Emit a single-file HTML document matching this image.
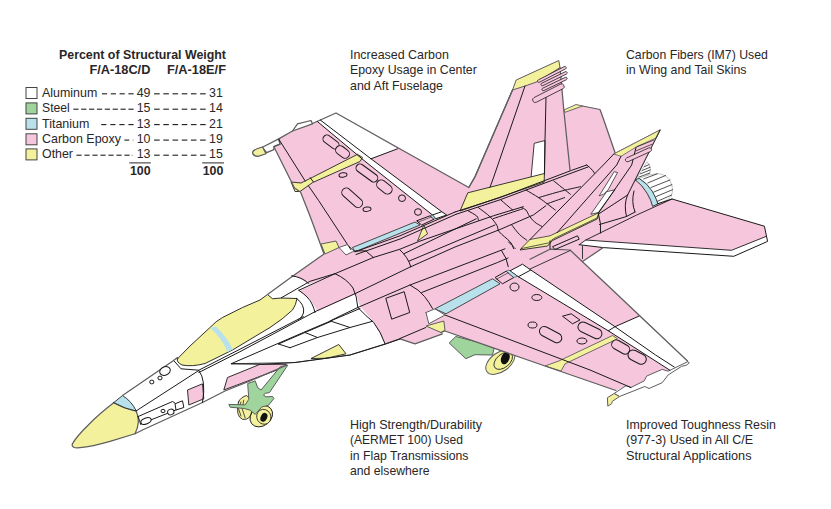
<!DOCTYPE html>
<html><head><meta charset="utf-8"><title>F/A-18E/F Structural Materials</title>
<style>
html,body{margin:0;padding:0;background:#fff;}
body{width:831px;height:509px;overflow:hidden;font-family:"Liberation Sans",sans-serif;}
svg{display:block;font-family:"Liberation Sans",sans-serif;}
</style></head><body>
<svg width="831" height="509" viewBox="0 0 831 509">
<rect width="831" height="509" fill="#fff"/>
<ellipse cx="500.3" cy="362.0" rx="16.5" ry="9.6" transform="rotate(-36 500.3 362.0)" fill="#F4F19C" stroke="#5e5e5e" stroke-width="1.0"/>
<ellipse cx="503.2" cy="360.8" rx="10.8" ry="6.6" transform="rotate(-40 503.2 360.8)" fill="#F4F19C" stroke="#1a1a1a" stroke-width="0.8"/>
<ellipse cx="505.3" cy="358.3" rx="4.1" ry="6.3" transform="rotate(22 505.3 358.3)" fill="#111" stroke="none" stroke-width="0.8"/>
<polygon points="449.2,343.0 455.8,336.5 494.5,346.5 492.5,355.0 475.0,354.7 465.8,358.7" fill="#9FD49C" stroke="#5e5e5e" stroke-width="1.0" stroke-linejoin="round" />
<polygon points="292.5,276.2 324.0,254.0 310.0,216.0 300.5,192.0 294.5,188.0 273.9,146.7 280.0,144.2 278.7,138.9 292.5,131.0 317.5,121.2 336.0,113.0 468.8,187.5 475.0,176.8 512.5,90.0 516.2,80.0 558.8,60.5 560.0,67.5 563.8,110.0 576.0,104.5 600.0,109.5 603.8,120.0 615.0,152.5 660.0,130.0 656.0,138.0 635.0,180.0 641.7,185.1 647.5,193.4 651.3,201.1 652.6,206.2 657.7,203.6 672.0,199.0 764.4,226.2 767.6,241.4 733.8,256.3 603.3,247.8 582.5,261.5 612.5,290.0 687.5,361.0 671.8,369.4 668.2,371.2 662.2,369.4 646.6,376.1 644.2,380.9 630.9,387.5 626.1,385.7 615.9,390.5 545.0,366.0 445.0,331.0 441.0,332.5 442.5,333.8 415.0,343.8 400.0,338.8 385.0,343.8 373.8,322.5 360.0,306.0 356.0,294.0 317.5,311.2 310.0,299.0 298.8,291.2 335.0,273.8 308.8,284.5 300.0,278.5" fill="#F6C6DC" stroke="none" stroke-width="0.8" stroke-linejoin="round" />
<polygon points="187.5,390.0 202.5,383.8 203.8,398.8 188.8,405.0" fill="#F6C6DC" stroke="#1a1a1a" stroke-width="0.9" stroke-linejoin="round" />
<polygon points="223.8,390.0 227.5,377.5 260.0,364.3 286.5,364.3 282.5,368.0" fill="#F6C6DC" stroke="#1a1a1a" stroke-width="0.9" stroke-linejoin="round" />
<polygon points="317.5,121.2 336.0,113.0 397.5,148.8 371.0,158.8" fill="#FFFFFF" stroke="none" stroke-width="0.8" stroke-linejoin="round" />
<polygon points="365.0,161.3 371.0,158.8 441.7,211.7 446.7,215.0 435.8,218.7 432.5,215.0" fill="#FFFFFF" stroke="none" stroke-width="0.8" stroke-linejoin="round" />
<polygon points="317.5,121.6 320.3,120.0 371.0,158.8 365.0,161.3" fill="#FFFFFF" stroke="none" stroke-width="0.8" stroke-linejoin="round" />
<polygon points="292.5,131.0 297.5,123.8 311.0,120.5 312.5,123.8" fill="#FFFFFF" stroke="#5e5e5e" stroke-width="1.25" stroke-linejoin="round" />
<polygon points="339.0,247.5 347.5,244.5 354.0,251.0 346.0,255.0" fill="#FFFFFF" stroke="none" stroke-width="0.8" stroke-linejoin="round" />
<polygon points="510.0,270.8 522.5,264.2 530.8,270.0 615.0,326.7 638.8,316.2 688.0,361.0 688.8,363.8 670.5,370.8 608.3,330.8 518.3,276.7" fill="#FFFFFF" stroke="none" stroke-width="0.8" stroke-linejoin="round" />
<polygon points="426.0,312.5 435.0,308.8 445.0,315.0 428.8,323.8" fill="#FFFFFF" stroke="none" stroke-width="0.8" stroke-linejoin="round" />
<polygon points="579.2,244.7 585.8,240.0 731.5,250.3 765.9,236.5 767.6,241.4 733.8,256.3 603.3,247.6" fill="#FFFFFF" stroke="none" stroke-width="0.8" stroke-linejoin="round" />
<polygon points="534.2,143.3 545.0,140.5 544.5,175.0 531.0,178.0" fill="#FFFFFF" stroke="#1a1a1a" stroke-width="0.85" stroke-linejoin="round" />
<polygon points="599.2,195.8 614.2,171.7 617.5,172.5 608.3,189.5 603.5,194.3" fill="#FFFFFF" stroke="#1a1a1a" stroke-width="0.85" stroke-linejoin="round" />
<polygon points="590.8,214.2 606.7,191.7 615.0,189.7 598.3,212.5" fill="#FFFFFF" stroke="#1a1a1a" stroke-width="0.85" stroke-linejoin="round" />
<path d="M635.3,180.7 L647.1,161.7 Q650.4,165.3 650.3,169.8 Q650.4,173.0 648.7,174.5 L639.2,178.7 Z" fill="#FFFFFF" stroke="#aaa" stroke-width="0.7" stroke-linejoin="round" stroke-linecap="round" />
<polyline points="644.5,166.6 649.1,164.6" fill="none" stroke="#1a1a1a" stroke-width="0.75" stroke-linejoin="round" stroke-linecap="round" />
<polyline points="642.5,170.4 650.1,167.2" fill="none" stroke="#1a1a1a" stroke-width="0.75" stroke-linejoin="round" stroke-linecap="round" />
<polyline points="640.4,173.8 650.3,169.9" fill="none" stroke="#1a1a1a" stroke-width="0.75" stroke-linejoin="round" stroke-linecap="round" />
<polyline points="638.9,177.1 649.8,173.0" fill="none" stroke="#1a1a1a" stroke-width="0.75" stroke-linejoin="round" stroke-linecap="round" />
<path d="M639.2,178.4 Q648.7,174.3 657.0,173.6 Q667.9,173.6 671.7,184.5 Q674.3,194.7 668.5,199.2 Q663.4,201.7 657.7,203.6 L651.9,192.1 L644.3,181.9 Z" fill="#FFFFFF" stroke="#aaa" stroke-width="0.7" stroke-linejoin="round" stroke-linecap="round" />
<polyline points="643.8,178.9 657.3,173.8" fill="none" stroke="#1a1a1a" stroke-width="0.75" stroke-linejoin="round" stroke-linecap="round" />
<polyline points="647.8,183.0 665.5,175.5" fill="none" stroke="#1a1a1a" stroke-width="0.75" stroke-linejoin="round" stroke-linecap="round" />
<polyline points="651.0,187.5 669.9,180.0" fill="none" stroke="#1a1a1a" stroke-width="0.75" stroke-linejoin="round" stroke-linecap="round" />
<polyline points="653.7,192.1 671.9,184.6" fill="none" stroke="#1a1a1a" stroke-width="0.75" stroke-linejoin="round" stroke-linecap="round" />
<polyline points="655.8,196.7 672.5,189.7" fill="none" stroke="#1a1a1a" stroke-width="0.75" stroke-linejoin="round" stroke-linecap="round" />
<polyline points="657.4,201.3 671.6,195.0" fill="none" stroke="#1a1a1a" stroke-width="0.75" stroke-linejoin="round" stroke-linecap="round" />
<path d="M635.7,180.1 Q637.9,178.1 639.4,178.6 Q647.5,183.5 652.2,191.1 Q656.4,198.5 657.9,203.8 L652.6,206.4 Q651.3,200.4 647.2,193.4 Q642.3,185.1 635.7,180.1 Z" fill="#B8E1EC" stroke="#1a1a1a" stroke-width="0.85" stroke-linejoin="round" stroke-linecap="round" />
<path d="M113.75,402.8 Q125,409 136.3,411.2 Q141,422 135,433.75 L110,441.3 Q92,446.4 80,447.7 Q71.2,448.6 72.3,444 Q76.5,436.5 88.3,425 Q99,414 113.75,402.8 Z" fill="#F4F19C" stroke="#5e5e5e" stroke-width="1.25" stroke-linejoin="round" stroke-linecap="round" />
<path d="M113.75,402.6 L122.5,395.5 Q131.5,401 136.3,411 Q125,409 113.75,402.6 Z" fill="#B8E1EC" stroke="#1a1a1a" stroke-width="0.85" stroke-linejoin="round" stroke-linecap="round" />
<path d="M177.5,358.8 L190,346 L210,327.5 Q216,321 222.5,317.5 L242.5,307.5 L260,300 L267.5,294.5 L272.5,298.75 L281,298 L297,298.5 Q296,305 292.5,310 Q283,319 270,327.5 L232.5,350 L205,363.5 Q192,367 182,365 Q176,362 177.5,358.8 Z" fill="#F4F19C" stroke="#1a1a1a" stroke-width="0.9" stroke-linejoin="round" stroke-linecap="round" />
<path d="M210,327.8 L216,326.5 Q228,338 232.8,349.5 L227.5,352.3 Q222,338 210,327.8 Z" fill="#B8E1EC" stroke="none" stroke-width="0.8" stroke-linejoin="round" stroke-linecap="round" />
<polygon points="311.0,358.5 338.8,344.5 346.0,353.8 326.0,358.3" fill="#F4F19C" stroke="#1a1a1a" stroke-width="0.85" stroke-linejoin="round" />
<polygon points="321.0,244.0 336.0,241.0 339.0,247.5 325.0,254.0" fill="#F4F19C" stroke="#5e5e5e" stroke-width="1.0" stroke-linejoin="round" />
<polygon points="291.0,182.0 301.0,183.0 312.5,177.3 357.5,154.3 362.5,157.5 360.0,161.5 312.5,182.6 300.0,191.5 295.0,191.5" fill="#F4F19C" stroke="#1a1a1a" stroke-width="0.85" stroke-linejoin="round" />
<path d="M262.4,147.3 L278.7,138.9 L280,144.2 L273.9,146.7 L273.9,149.7 L266.7,152.7 Z" fill="#FFFFFF" stroke="#5e5e5e" stroke-width="1.25" stroke-linejoin="round" stroke-linecap="round" />
<path d="M262.5,147 L266,153.75 L258,156.3 Q252.5,156 252.6,152 Q253.5,149.5 262.5,147 Z" fill="#F4F19C" stroke="#5e5e5e" stroke-width="1.25" stroke-linejoin="round" stroke-linecap="round" />
<polygon points="417.5,241.0 423.8,225.0 427.5,233.8" fill="#F4F19C" stroke="#1a1a1a" stroke-width="0.75" stroke-linejoin="round" />
<polygon points="460.0,211.0 467.8,192.8 544.4,173.5 544.2,182.0" fill="#F4F19C" stroke="#1a1a1a" stroke-width="0.85" stroke-linejoin="round" />
<polygon points="516.2,80.0 558.8,60.5 560.0,67.5 538.8,81.2 525.0,86.0 512.5,90.0" fill="#F4F19C" stroke="#5e5e5e" stroke-width="1.0" stroke-linejoin="round" />
<polygon points="563.8,110.0 576.0,104.5 582.5,106.0 565.0,112.3" fill="#F4F19C" stroke="#5e5e5e" stroke-width="0.9" stroke-linejoin="round" />
<polygon points="613.8,154.0 660.0,130.0 656.0,138.0 621.0,156.3" fill="#F4F19C" stroke="#5e5e5e" stroke-width="1.0" stroke-linejoin="round" />
<polygon points="520.0,250.0 530.0,240.0 547.5,237.5 598.8,213.0 597.5,218.8 552.5,240.5 547.5,246.0" fill="#F4F19C" stroke="#1a1a1a" stroke-width="0.85" stroke-linejoin="round" />
<polygon points="426.0,326.0 443.8,321.0 445.0,330.0 441.0,332.5" fill="#F4F19C" stroke="#5e5e5e" stroke-width="1.0" stroke-linejoin="round" />
<polygon points="545.0,366.0 558.8,361.0 612.5,335.5 617.5,338.8 565.0,363.8 561.0,371.0" fill="#F4F19C" stroke="#5e5e5e" stroke-width="0.9" stroke-linejoin="round" />
<polygon points="614.1,393.5 626.0,385.7 630.9,387.5 644.2,380.9 646.6,376.1 662.2,369.4 668.2,371.2 671.8,369.4 688.0,361.5 689.3,363.0 686.3,365.2 681.5,366.4 668.2,374.9 662.2,382.7 649.0,388.5 644.8,386.5 619.5,396.5" fill="#FFFFFF" stroke="#5e5e5e" stroke-width="1.0" stroke-linejoin="round" />
<polygon points="607.4,397.7 614.1,393.5 619.5,396.5 612.3,401.3 611.7,403.7 607.8,406.1" fill="#F4F19C" stroke="#5e5e5e" stroke-width="1.0" stroke-linejoin="round" />
<polygon points="352.5,247.5 415.0,222.0 420.0,225.0 355.0,251.8" fill="#B8E1EC" stroke="#1a1a1a" stroke-width="0.75" stroke-linejoin="round" />
<polygon points="435.0,308.8 492.5,278.8 500.0,283.8 446.0,313.8" fill="#B8E1EC" stroke="#1a1a1a" stroke-width="0.75" stroke-linejoin="round" />
<path d="M238.5,401.9 Q241.0,396.8 246.8,395.5 Q252.7,400.2 251.8,410.2 Q251.0,420.3 242.6,419.4 Q235.1,416.1 238.5,401.9 Z" fill="#F4F19C" stroke="#1a1a1a" stroke-width="0.85" stroke-linejoin="round" stroke-linecap="round" />
<polyline points="241.0,401.9 238.5,408.5 241.0,416.1" fill="none" stroke="#1a1a1a" stroke-width="0.75" stroke-linejoin="round" stroke-linecap="round" />
<polyline points="243.8,400.2 242.1,408.5 245.1,417.7" fill="none" stroke="#1a1a1a" stroke-width="0.75" stroke-linejoin="round" stroke-linecap="round" />
<ellipse cx="261.3" cy="416.2" rx="12.2" ry="9.6" transform="rotate(-38 261.3 416.2)" fill="#F4F19C" stroke="#1a1a1a" stroke-width="0.9"/>
<ellipse cx="263.8" cy="416.8" rx="7.0" ry="7.6" transform="rotate(-30 263.8 416.8)" fill="#F4F19C" stroke="#1a1a1a" stroke-width="0.75"/>
<ellipse cx="263.9" cy="417.3" rx="3.2" ry="4.6" transform="rotate(25 263.9 417.3)" fill="#111" stroke="none" stroke-width="0.8"/>
<polygon points="247.7,383.5 255.2,380.9 257.7,387.6 261.0,390.1 280.3,366.7 287.8,365.1 269.4,392.7 265.2,393.2 263.5,395.2 266.1,396.8 272.7,396.5 273.9,398.5 268.6,405.2 261.9,406.9 255.2,414.4 250.2,410.2 244.3,408.5 230.1,407.2 228.8,404.4 245.1,404.9 248.8,399.3" fill="#9FD49C" stroke="#5e5e5e" stroke-width="1.0" stroke-linejoin="round" />
<polyline points="292.5,276.2 324.0,254.0 310.0,216.0 300.5,192.0 294.5,188.0 273.9,146.7 280.0,144.2 278.7,138.9 292.5,131.0" fill="none" stroke="#5e5e5e" stroke-width="1.25" stroke-linejoin="round" stroke-linecap="round" />
<polyline points="312.5,123.5 317.5,121.2 336.0,113.0 468.8,187.5 475.0,176.8 512.5,90.0" fill="none" stroke="#5e5e5e" stroke-width="1.25" stroke-linejoin="round" stroke-linecap="round" />
<polyline points="560.0,67.5 563.8,110.0 570.0,170.0" fill="none" stroke="#5e5e5e" stroke-width="1.25" stroke-linejoin="round" stroke-linecap="round" />
<polyline points="582.5,106.0 600.0,109.5 603.8,120.0 615.0,152.5" fill="none" stroke="#5e5e5e" stroke-width="1.25" stroke-linejoin="round" stroke-linecap="round" />
<polyline points="660.0,130.0 656.0,138.0 635.0,180.0 627.5,195.0 598.8,213.8" fill="none" stroke="#1a1a1a" stroke-width="0.9" stroke-linejoin="round" stroke-linecap="round" />
<polyline points="657.5,203.8 672.0,199.0 764.4,226.2 767.6,241.4 733.8,256.3 603.3,247.6 579.2,244.7" fill="none" stroke="#1a1a1a" stroke-width="1.0" stroke-linejoin="round" stroke-linecap="round" />
<polyline points="603.3,247.6 582.5,261.5" fill="none" stroke="#5e5e5e" stroke-width="1.25" stroke-linejoin="round" stroke-linecap="round" />
<polyline points="582.5,246.0 582.5,258.5" fill="none" stroke="#1a1a1a" stroke-width="0.85" stroke-linejoin="round" stroke-linecap="round" />
<polyline points="579.2,244.7 585.8,240.0 731.5,250.3 765.9,236.5" fill="none" stroke="#1a1a1a" stroke-width="0.9" stroke-linejoin="round" stroke-linecap="round" />
<polyline points="672.0,199.0 636.7,215.0 585.8,240.0" fill="none" stroke="#1a1a1a" stroke-width="0.9" stroke-linejoin="round" stroke-linecap="round" />
<polyline points="530.0,259.2 550.0,249.2 570.0,250.0 612.5,290.0 687.5,361.0" fill="none" stroke="#5e5e5e" stroke-width="1.25" stroke-linejoin="round" stroke-linecap="round" />
<polyline points="530.0,269.0 570.0,250.6" fill="none" stroke="#1a1a1a" stroke-width="0.85" stroke-linejoin="round" stroke-linecap="round" />
<polyline points="615.9,390.5 545.0,366.0 445.0,331.0 441.0,332.5" fill="none" stroke="#5e5e5e" stroke-width="1.25" stroke-linejoin="round" stroke-linecap="round" />
<polyline points="442.5,333.8 415.0,343.8 400.0,338.8 385.0,344.0 350.0,355.0 295.0,362.5 231.3,363.8" fill="none" stroke="#5e5e5e" stroke-width="1.25" stroke-linejoin="round" stroke-linecap="round" />
<polyline points="292.5,276.2 267.5,294.5" fill="none" stroke="#5e5e5e" stroke-width="1.25" stroke-linejoin="round" stroke-linecap="round" />
<polyline points="177.5,357.5 172.5,361.2 122.5,395.5" fill="none" stroke="#5e5e5e" stroke-width="1.25" stroke-linejoin="round" stroke-linecap="round" />
<polyline points="135.0,433.8 142.5,430.0 202.5,402.5 225.0,391.0 250.0,381.0 286.0,365.5" fill="none" stroke="#5e5e5e" stroke-width="1.25" stroke-linejoin="round" stroke-linecap="round" />
<polyline points="136.3,410.8 198.8,370.5" fill="none" stroke="#1a1a1a" stroke-width="1.0" stroke-linejoin="round" stroke-linecap="round" />
<path d="M198.8,370.5 Q206.5,380 202.5,402.5" fill="none" stroke="#1a1a1a" stroke-width="1.0" stroke-linejoin="round" stroke-linecap="round" />
<polyline points="174.3,361.2 181.0,368.8 198.8,370.2 240.0,349.2 303.3,316.7" fill="none" stroke="#1a1a1a" stroke-width="1.0" stroke-linejoin="round" stroke-linecap="round" />
<polyline points="138.0,416.6 172.5,401.5 175.5,403.5" fill="none" stroke="#1a1a1a" stroke-width="1.0" stroke-linejoin="round" stroke-linecap="round" />
<polyline points="140.5,424.0 176.0,410.0" fill="none" stroke="#1a1a1a" stroke-width="1.0" stroke-linejoin="round" stroke-linecap="round" />
<path d="M138,416.6 Q139.8,420 140.5,424" fill="none" stroke="#1a1a1a" stroke-width="1.0" stroke-linejoin="round" stroke-linecap="round" />
<polygon points="175.0,403.8 182.5,400.8 183.8,407.5 176.0,410.0" fill="#FFFFFF" stroke="#1a1a1a" stroke-width="1.0" stroke-linejoin="round" />
<ellipse cx="146.0" cy="421.0" rx="5.4" ry="2.9" transform="rotate(-22 146.0 421.0)" fill="#FFFFFF" stroke="#1a1a1a" stroke-width="1.0"/>
<ellipse cx="163.0" cy="411.0" rx="2.0" ry="1.7" transform="rotate(0 163.0 411.0)" fill="#FFFFFF" stroke="#1a1a1a" stroke-width="1.0"/>
<ellipse cx="170.8" cy="412.0" rx="3.2" ry="2.8" transform="rotate(-20 170.8 412.0)" fill="#FFFFFF" stroke="#1a1a1a" stroke-width="1.0"/>
<ellipse cx="165.0" cy="371.0" rx="5.5" ry="4.2" transform="rotate(-25 165.0 371.0)" fill="#FFFFFF" stroke="#1a1a1a" stroke-width="1.0"/>
<ellipse cx="160.0" cy="378.0" rx="2.1" ry="1.9" transform="rotate(0 160.0 378.0)" fill="#FFFFFF" stroke="#1a1a1a" stroke-width="1.0"/>
<ellipse cx="151.8" cy="382.0" rx="2.1" ry="1.9" transform="rotate(0 151.8 382.0)" fill="#FFFFFF" stroke="#1a1a1a" stroke-width="1.0"/>
<path d="M296.8,298.5 Q305,305 303.5,313 Q302,318 298.5,319.5" fill="none" stroke="#1a1a1a" stroke-width="1.0" stroke-linejoin="round" stroke-linecap="round" />
<path d="M298.8,290.3 Q309,297 312,304 Q314,308 315,312.5" fill="none" stroke="#1a1a1a" stroke-width="1.0" stroke-linejoin="round" stroke-linecap="round" />
<polyline points="281.3,297.8 310.0,281.3 335.0,273.7 373.3,257.5" fill="none" stroke="#1a1a1a" stroke-width="1.0" stroke-linejoin="round" stroke-linecap="round" />
<polyline points="298.8,290.3 335.0,273.7" fill="none" stroke="#1a1a1a" stroke-width="1.0" stroke-linejoin="round" stroke-linecap="round" />
<path d="M291.7,275.8 Q302,277 308.3,283.3" fill="none" stroke="#1a1a1a" stroke-width="1.0" stroke-linejoin="round" stroke-linecap="round" />
<polyline points="231.5,363.6 303.3,332.5 360.0,308.5" fill="none" stroke="#1a1a1a" stroke-width="1.0" stroke-linejoin="round" stroke-linecap="round" />
<polyline points="231.5,363.6 262.0,364.3 295.0,362.5 350.0,355.0 385.0,344.2 400.0,338.9" fill="none" stroke="#1a1a1a" stroke-width="1.0" stroke-linejoin="round" stroke-linecap="round" />
<polyline points="278.5,344.0 305.0,332.5 331.3,321.3" fill="none" stroke="#1a1a1a" stroke-width="1.0" stroke-linejoin="round" stroke-linecap="round" />
<polyline points="290.0,347.7 317.5,337.5 350.0,327.5 372.5,321.3" fill="none" stroke="#1a1a1a" stroke-width="1.0" stroke-linejoin="round" stroke-linecap="round" />
<polyline points="278.5,344.0 290.0,347.7" fill="none" stroke="#1a1a1a" stroke-width="1.0" stroke-linejoin="round" stroke-linecap="round" />
<polyline points="305.0,332.5 317.5,337.5" fill="none" stroke="#1a1a1a" stroke-width="1.0" stroke-linejoin="round" stroke-linecap="round" />
<polyline points="331.3,321.3 350.0,327.5" fill="none" stroke="#1a1a1a" stroke-width="1.0" stroke-linejoin="round" stroke-linecap="round" />
<polyline points="198.8,372.5 240.0,351.7 315.0,311.7 355.8,293.3" fill="none" stroke="#1a1a1a" stroke-width="1.0" stroke-linejoin="round" stroke-linecap="round" />
<path d="M335,273.7 Q347,279 353,288 Q357,296 357.8,307.5 Q366,316 373.7,322.5 Q381,332 385,343.7" fill="none" stroke="#1a1a1a" stroke-width="1.0" stroke-linejoin="round" stroke-linecap="round" />
<polyline points="357.8,307.5 340.0,316.0 330.0,321.0" fill="none" stroke="#1a1a1a" stroke-width="1.0" stroke-linejoin="round" stroke-linecap="round" />
<polygon points="385.8,298.3 404.2,291.7 409.7,312.5 391.7,319.2" fill="none" stroke="#1a1a1a" stroke-width="1.0" stroke-linejoin="round" />
<polyline points="373.3,257.5 365.8,250.8 354.0,251.0" fill="none" stroke="#1a1a1a" stroke-width="1.0" stroke-linejoin="round" stroke-linecap="round" />
<polyline points="373.3,257.5 400.0,249.2 418.3,241.7 493.3,215.8 523.3,206.7" fill="none" stroke="#1a1a1a" stroke-width="1.0" stroke-linejoin="round" stroke-linecap="round" />
<polyline points="355.8,293.3 410.8,266.7" fill="none" stroke="#1a1a1a" stroke-width="1.0" stroke-linejoin="round" stroke-linecap="round" />
<polyline points="403.8,253.8 476.2,218.8" fill="none" stroke="#1a1a1a" stroke-width="1.0" stroke-linejoin="round" stroke-linecap="round" />
<polyline points="408.8,261.2 495.0,225.0" fill="none" stroke="#1a1a1a" stroke-width="1.0" stroke-linejoin="round" stroke-linecap="round" />
<polyline points="410.8,266.7 455.0,247.0 500.0,229.5 533.3,215.0 545.8,205.8" fill="none" stroke="#1a1a1a" stroke-width="1.0" stroke-linejoin="round" stroke-linecap="round" />
<polyline points="357.8,307.5 410.0,285.0 505.0,248.8" fill="none" stroke="#1a1a1a" stroke-width="1.0" stroke-linejoin="round" stroke-linecap="round" />
<polyline points="421.7,292.5 497.5,262.5 508.0,258.0" fill="none" stroke="#1a1a1a" stroke-width="1.0" stroke-linejoin="round" stroke-linecap="round" />
<path d="M410,285 Q419,289.5 424.5,296.5 Q429,302 432.5,308.5" fill="none" stroke="#1a1a1a" stroke-width="1.0" stroke-linejoin="round" stroke-linecap="round" />
<polyline points="400.0,338.5 425.8,327.5" fill="none" stroke="#1a1a1a" stroke-width="1.0" stroke-linejoin="round" stroke-linecap="round" />
<polyline points="355.0,251.8 400.0,235.8 455.0,212.0" fill="none" stroke="#1a1a1a" stroke-width="1.0" stroke-linejoin="round" stroke-linecap="round" />
<polyline points="356.0,254.5 400.0,239.0 456.0,214.3" fill="none" stroke="#1a1a1a" stroke-width="1.0" stroke-linejoin="round" stroke-linecap="round" />
<path d="M501.7,250.8 Q507,258 508.3,266.7" fill="none" stroke="#1a1a1a" stroke-width="1.0" stroke-linejoin="round" stroke-linecap="round" />
<path d="M400,250 Q408,257 410.8,266.7" fill="none" stroke="#1a1a1a" stroke-width="1.0" stroke-linejoin="round" stroke-linecap="round" />
<polyline points="455.0,212.0 500.0,197.5 571.7,170.3 586.7,165.0" fill="none" stroke="#1a1a1a" stroke-width="1.0" stroke-linejoin="round" stroke-linecap="round" />
<polyline points="456.0,214.3 500.0,199.8 573.0,172.5 588.0,167.0" fill="none" stroke="#1a1a1a" stroke-width="1.0" stroke-linejoin="round" stroke-linecap="round" />
<path d="M468.4,211.0 C469.8,211.8 475.1,214.5 476.7,216.0 C478.4,217.5 478.1,219.5 478.4,220.2" fill="none" stroke="#1a1a1a" stroke-width="1.0" stroke-linejoin="round" stroke-linecap="round" />
<path d="M478.4,207.6 C480.4,209.2 487.1,213.9 490.1,216.8 C493.2,219.8 495.3,222.7 496.8,225.2 C498.4,227.7 497.1,229.1 499.3,231.9 C501.6,234.7 507.8,239.1 510.2,241.9 C512.6,244.7 513.0,247.5 513.5,248.6" fill="none" stroke="#1a1a1a" stroke-width="1.0" stroke-linejoin="round" stroke-linecap="round" />
<path d="M501.0,200.1 C503.0,201.8 510.8,208.5 512.7,210.1" fill="none" stroke="#1a1a1a" stroke-width="1.0" stroke-linejoin="round" stroke-linecap="round" />
<path d="M521.9,207.6 C522.6,208.1 524.8,208.8 526.1,210.1 C527.3,211.5 528.0,214.1 529.4,216.0 C530.8,218.0 532.4,220.1 534.5,221.9 C536.5,223.6 540.7,225.8 542.0,226.5" fill="none" stroke="#1a1a1a" stroke-width="1.0" stroke-linejoin="round" stroke-linecap="round" />
<path d="M493.5,218.5 C498.4,216.9 517.9,210.4 522.7,208.8" fill="none" stroke="#1a1a1a" stroke-width="1.0" stroke-linejoin="round" stroke-linecap="round" />
<path d="M526.1,190.1 C528.2,191.3 535.0,195.2 538.6,197.6 C542.3,200.0 545.1,202.2 547.8,204.3 C550.6,206.4 554.1,209.2 555.4,210.1" fill="none" stroke="#1a1a1a" stroke-width="1.0" stroke-linejoin="round" stroke-linecap="round" />
<path d="M538.6,197.6 C542.5,196.5 555.1,192.7 562.1,190.9 C569.0,189.1 577.4,187.4 580.5,186.7" fill="none" stroke="#1a1a1a" stroke-width="1.0" stroke-linejoin="round" stroke-linecap="round" />
<path d="M553.7,180.9 C556.5,183.1 567.6,192.0 570.4,194.3" fill="none" stroke="#1a1a1a" stroke-width="1.0" stroke-linejoin="round" stroke-linecap="round" />
<path d="M547.0,203.8 C549.9,202.8 561.6,198.6 564.6,197.6" fill="none" stroke="#1a1a1a" stroke-width="1.0" stroke-linejoin="round" stroke-linecap="round" />
<path d="M511.9,225.2 C513.1,226.7 516.9,231.9 519.4,234.4 C521.9,236.9 525.7,239.3 526.9,240.3" fill="none" stroke="#1a1a1a" stroke-width="1.0" stroke-linejoin="round" stroke-linecap="round" />
<path d="M508.5,241.9 C509.6,243.0 514.1,247.5 515.2,248.6" fill="none" stroke="#1a1a1a" stroke-width="1.0" stroke-linejoin="round" stroke-linecap="round" />
<path d="M586.7,165 Q594,170 597,178" fill="none" stroke="#1a1a1a" stroke-width="1.0" stroke-linejoin="round" stroke-linecap="round" />
<polygon points="530.0,239.8 613.8,154.0 660.0,130.0 656.0,138.0 635.0,180.0 627.5,195.0 598.8,213.8 552.0,236.5 540.0,241.0" fill="#F6C6DC" stroke="none" stroke-width="0.8" stroke-linejoin="round" />
<polygon points="599.2,195.8 614.2,171.7 617.5,172.5 608.3,189.5 603.5,194.3" fill="#FFFFFF" stroke="#1a1a1a" stroke-width="0.7" stroke-linejoin="round" />
<polygon points="590.8,214.2 606.7,191.7 615.0,189.7 598.3,212.5" fill="#FFFFFF" stroke="#1a1a1a" stroke-width="0.7" stroke-linejoin="round" />
<polygon points="613.8,154.0 660.0,130.0 656.0,138.0 636.7,146.7 621.0,156.3" fill="#F4F19C" stroke="#5e5e5e" stroke-width="0.8" stroke-linejoin="round" />
<polygon points="520.8,248.7 530.0,239.5 550.0,235.8 598.8,212.7 597.0,218.0 553.3,238.8 548.3,243.0" fill="#F4F19C" stroke="#1a1a1a" stroke-width="0.7" stroke-linejoin="round" />
<polyline points="660.0,130.0 656.0,138.0 635.0,180.0 627.5,195.0 598.8,213.8" fill="none" stroke="#1a1a1a" stroke-width="0.8" stroke-linejoin="round" stroke-linecap="round" />
<polyline points="530.0,239.5 603.3,165.0 613.8,154.0" fill="none" stroke="#1a1a1a" stroke-width="1.0" stroke-linejoin="round" stroke-linecap="round" />
<polyline points="557.0,232.8 616.7,165.0 621.0,156.3" fill="none" stroke="#1a1a1a" stroke-width="1.0" stroke-linejoin="round" stroke-linecap="round" />
<polyline points="598.3,213.3 631.7,165.0 636.0,147.5" fill="none" stroke="#1a1a1a" stroke-width="1.0" stroke-linejoin="round" stroke-linecap="round" />
<polyline points="525.0,86.0 493.8,176.8 490.0,187.3" fill="none" stroke="#1a1a1a" stroke-width="1.0" stroke-linejoin="round" stroke-linecap="round" />
<polyline points="546.0,97.5 545.0,140.5 544.4,173.5" fill="none" stroke="#1a1a1a" stroke-width="1.0" stroke-linejoin="round" stroke-linecap="round" />
<polyline points="468.8,187.5 475.0,176.8 512.5,90.0" fill="none" stroke="#5e5e5e" stroke-width="1.25" stroke-linejoin="round" stroke-linecap="round" />
<polygon points="552.5,246.7 577.5,235.8 579.2,239.2 555.0,249.5" fill="none" stroke="#1a1a1a" stroke-width="1.0" stroke-linejoin="round" />
<path d="M627.5,195 Q623.5,205 626.5,216.5" fill="none" stroke="#1a1a1a" stroke-width="1.0" stroke-linejoin="round" stroke-linecap="round" />
<path d="M634,191 Q631,202 635,212" fill="none" stroke="#1a1a1a" stroke-width="1.0" stroke-linejoin="round" stroke-linecap="round" />
<path d="M598.5,214 Q601.5,224 600.5,233" fill="none" stroke="#1a1a1a" stroke-width="1.0" stroke-linejoin="round" stroke-linecap="round" />
<polyline points="599.5,224.5 626.5,216.5 635.0,212.0" fill="none" stroke="#1a1a1a" stroke-width="1.0" stroke-linejoin="round" stroke-linecap="round" />
<polyline points="550.0,241.0 550.0,248.5" fill="none" stroke="#1a1a1a" stroke-width="1.0" stroke-linejoin="round" stroke-linecap="round" />
<polyline points="279.0,139.5 305.2,181.0" fill="none" stroke="#1a1a1a" stroke-width="1.0" stroke-linejoin="round" stroke-linecap="round" />
<polyline points="308.6,186.0 318.6,200.5 351.0,249.8" fill="none" stroke="#1a1a1a" stroke-width="1.0" stroke-linejoin="round" stroke-linecap="round" />
<polyline points="310.3,177.7 313.3,181.8" fill="none" stroke="#1a1a1a" stroke-width="1.0" stroke-linejoin="round" stroke-linecap="round" />
<polyline points="317.5,121.6 365.0,161.3 432.5,215.0" fill="none" stroke="#1a1a1a" stroke-width="1.0" stroke-linejoin="round" stroke-linecap="round" />
<polyline points="320.3,120.0 371.0,158.8 441.7,211.7" fill="none" stroke="#1a1a1a" stroke-width="1.0" stroke-linejoin="round" stroke-linecap="round" />
<polyline points="371.0,158.8 397.5,148.8" fill="none" stroke="#1a1a1a" stroke-width="1.0" stroke-linejoin="round" stroke-linecap="round" />
<polyline points="432.5,215.0 441.7,211.7 446.7,215.0 435.8,218.7 432.5,215.0" fill="none" stroke="#1a1a1a" stroke-width="1.0" stroke-linejoin="round" stroke-linecap="round" />
<polygon points="416.7,220.8 430.0,215.8 434.0,219.2 421.7,225.0" fill="#F6C6DC" stroke="#1a1a1a" stroke-width="1.0" stroke-linejoin="round" />
<polygon points="430.0,215.8 432.5,215.0 435.5,218.5 434.0,219.2" fill="#B8E1EC" stroke="#1a1a1a" stroke-width="0.5" stroke-linejoin="round" />
<polyline points="418.2,222.1 431.3,217.0" fill="none" stroke="#1a1a1a" stroke-width="0.6" stroke-linejoin="round" stroke-linecap="round" />
<rect x="322.0" y="138.0" width="18.0" height="8.0" rx="4.0" ry="4.0" transform="rotate(36.9 331.0 142.0)" fill="#F6C6DC" stroke="#1a1a1a" stroke-width="1.0"/>
<rect x="335.0" y="147.5" width="15.1" height="8.8" rx="4.4" ry="4.4" transform="rotate(36.9 342.5 151.9)" fill="#F6C6DC" stroke="#1a1a1a" stroke-width="1.0"/>
<rect x="354.4" y="169.0" width="25.0" height="8.0" rx="4.0" ry="4.0" transform="rotate(36.0 366.9 173.0)" fill="#F6C6DC" stroke="#1a1a1a" stroke-width="1.0"/>
<rect x="375.8" y="182.4" width="17.2" height="9.2" rx="4.6" ry="4.6" transform="rotate(38.7 384.4 187.0)" fill="#F6C6DC" stroke="#1a1a1a" stroke-width="1.0"/>
<ellipse cx="343.0" cy="175.0" rx="4.0" ry="2.2" transform="rotate(-8 343.0 175.0)" fill="#F6C6DC" stroke="#1a1a1a" stroke-width="1.0"/>
<rect x="339.7" y="193.2" width="24.8" height="9.0" rx="4.5" ry="4.5" transform="rotate(41.8 352.1 197.8)" fill="#F6C6DC" stroke="#1a1a1a" stroke-width="1.0"/>
<ellipse cx="367.0" cy="209.2" rx="4.0" ry="2.2" transform="rotate(-8 367.0 209.2)" fill="#F6C6DC" stroke="#1a1a1a" stroke-width="1.0"/>
<ellipse cx="402.0" cy="198.2" rx="3.5" ry="3.3" transform="rotate(0 402.0 198.2)" fill="#F6C6DC" stroke="#1a1a1a" stroke-width="1.0"/>
<ellipse cx="418.0" cy="212.0" rx="3.5" ry="3.3" transform="rotate(0 418.0 212.0)" fill="#F6C6DC" stroke="#1a1a1a" stroke-width="1.0"/>
<polyline points="445.0,315.0 590.0,370.0 630.9,387.5" fill="none" stroke="#1a1a1a" stroke-width="1.0" stroke-linejoin="round" stroke-linecap="round" />
<polyline points="518.3,276.7 608.3,330.8 670.0,370.3" fill="none" stroke="#1a1a1a" stroke-width="1.0" stroke-linejoin="round" stroke-linecap="round" />
<polyline points="530.8,270.0 615.0,326.7 655.6,355.0 674.2,367.0" fill="none" stroke="#1a1a1a" stroke-width="1.0" stroke-linejoin="round" stroke-linecap="round" />
<polyline points="608.3,330.8 615.0,326.7 638.8,316.2" fill="none" stroke="#1a1a1a" stroke-width="1.0" stroke-linejoin="round" stroke-linecap="round" />
<polyline points="510.0,270.8 522.5,264.2 530.8,270.0 518.3,276.7 510.0,270.8" fill="none" stroke="#1a1a1a" stroke-width="1.0" stroke-linejoin="round" stroke-linecap="round" />
<polyline points="426.0,312.5 435.0,308.8 445.0,315.0 428.8,323.8 426.0,312.5" fill="none" stroke="#5e5e5e" stroke-width="1.0" stroke-linejoin="round" stroke-linecap="round" />
<polygon points="495.0,277.5 506.2,271.2 513.8,277.5 502.5,283.8" fill="#F6C6DC" stroke="#1a1a1a" stroke-width="1.0" stroke-linejoin="round" />
<polygon points="506.2,271.2 508.8,270.0 517.5,276.3 513.8,277.5" fill="#B8E1EC" stroke="#1a1a1a" stroke-width="0.5" stroke-linejoin="round" />
<polyline points="496.8,279.0 508.2,272.8" fill="none" stroke="#1a1a1a" stroke-width="0.6" stroke-linejoin="round" stroke-linecap="round" />
<ellipse cx="514.5" cy="287.0" rx="4.5" ry="4.0" transform="rotate(0 514.5 287.0)" fill="#F6C6DC" stroke="#1a1a1a" stroke-width="1.0"/>
<ellipse cx="536.8" cy="297.5" rx="5.0" ry="3.0" transform="rotate(0 536.8 297.5)" fill="#F6C6DC" stroke="#1a1a1a" stroke-width="1.0"/>
<ellipse cx="532.5" cy="325.0" rx="4.5" ry="3.0" transform="rotate(0 532.5 325.0)" fill="#F6C6DC" stroke="#1a1a1a" stroke-width="1.0"/>
<rect x="538.6" y="329.8" width="24.0" height="9.6" rx="4.8" ry="4.8" transform="rotate(27.9 550.6 334.6)" fill="#F6C6DC" stroke="#1a1a1a" stroke-width="1.0"/>
<ellipse cx="581.9" cy="341.0" rx="5.0" ry="3.0" transform="rotate(0 581.9 341.0)" fill="#F6C6DC" stroke="#1a1a1a" stroke-width="1.0"/>
<polygon points="562.5,316.2 571.2,313.8 580.0,320.0 572.5,323.8" fill="#F6C6DC" stroke="#1a1a1a" stroke-width="1.0" stroke-linejoin="round" />
<rect x="577.2" y="325.4" width="25.5" height="10.0" rx="5.0" ry="5.0" transform="rotate(25.7 590.0 330.4)" fill="#F6C6DC" stroke="#1a1a1a" stroke-width="1.0"/>
<rect x="611.0" y="342.4" width="19.3" height="9.2" rx="4.6" ry="4.6" transform="rotate(29.7 620.6 347.0)" fill="#F6C6DC" stroke="#1a1a1a" stroke-width="1.0"/>
<rect x="627.5" y="352.1" width="19.3" height="10.0" rx="5.0" ry="5.0" transform="rotate(27.3 637.1 357.1)" fill="#F6C6DC" stroke="#1a1a1a" stroke-width="1.0"/>
<polyline points="339.0,247.5 347.5,244.5 354.0,251.0 346.0,255.0 339.0,247.5" fill="none" stroke="#5e5e5e" stroke-width="1.0" stroke-linejoin="round" stroke-linecap="round" />
<rect x="535.9" y="73.1" width="31.9" height="2.6" rx="1.3" ry="1.3" transform="rotate(-27.1 551.9 74.4)" fill="#F6C6DC" stroke="#1a1a1a" stroke-width="0.7"/>
<rect x="539.6" y="77.4" width="28.9" height="2.6" rx="1.3" ry="1.3" transform="rotate(-26.1 554.0 78.7)" fill="#F6C6DC" stroke="#1a1a1a" stroke-width="0.7"/>
<rect x="540.7" y="82.7" width="27.7" height="2.6" rx="1.3" ry="1.3" transform="rotate(-25.7 554.5 84.0)" fill="#F6C6DC" stroke="#1a1a1a" stroke-width="0.7"/>
<rect x="531.0" y="90.6" width="34.8" height="5.2" rx="2.6" ry="2.6" transform="rotate(-26.9 548.4 93.2)" fill="#F6C6DC" stroke="#1a1a1a" stroke-width="0.7"/>
<polyline points="636.9,146.8 653.6,140.1" fill="none" stroke="#1a1a1a" stroke-width="0.7" stroke-linejoin="round" stroke-linecap="round" />
<polyline points="636.0,150.9 651.9,144.3" fill="none" stroke="#1a1a1a" stroke-width="0.7" stroke-linejoin="round" stroke-linecap="round" />
<rect x="624.3" y="152.8" width="28.3" height="4.0" rx="2.0" ry="2.0" transform="rotate(-24.4 638.4 154.8)" fill="#F6C6DC" stroke="#1a1a1a" stroke-width="0.7"/>
<text x="59" y="58.5" font-size="12.4" text-anchor="start" font-weight="bold" textLength="167" lengthAdjust="spacingAndGlyphs" fill="#2a2627">Percent of Structural Weight</text>
<text x="89.4" y="74" font-size="12.4" text-anchor="start" font-weight="bold" textLength="61" lengthAdjust="spacingAndGlyphs" fill="#2a2627">F/A-18C/D</text>
<text x="167" y="74" font-size="12.4" text-anchor="start" font-weight="bold" textLength="59" lengthAdjust="spacingAndGlyphs" fill="#2a2627">F/A-18E/F</text>
<rect x="26" y="87.5" width="11" height="11" fill="#FFFFFF" stroke="#444" stroke-width="1"/>
<text x="42" y="96.7" font-size="12.4" text-anchor="start" textLength="55.3" lengthAdjust="spacingAndGlyphs" fill="#2a2627">Aluminum</text>
<text x="150.5" y="96.7" font-size="12.4" text-anchor="end" fill="#2a2627">49</text>
<text x="222.8" y="96.7" font-size="12.4" text-anchor="end" fill="#2a2627">31</text>
<line x1="101.90" y1="93.8" x2="107.10" y2="93.8" stroke="#2a2627" stroke-width="1.15"/>
<line x1="110.73" y1="93.8" x2="115.93" y2="93.8" stroke="#2a2627" stroke-width="1.15"/>
<line x1="119.57" y1="93.8" x2="124.77" y2="93.8" stroke="#2a2627" stroke-width="1.15"/>
<line x1="128.40" y1="93.8" x2="133.60" y2="93.8" stroke="#2a2627" stroke-width="1.15"/>
<line x1="154.10" y1="93.8" x2="159.70" y2="93.8" stroke="#2a2627" stroke-width="1.15"/>
<line x1="163.30" y1="93.8" x2="168.90" y2="93.8" stroke="#2a2627" stroke-width="1.15"/>
<line x1="172.50" y1="93.8" x2="178.10" y2="93.8" stroke="#2a2627" stroke-width="1.15"/>
<line x1="181.70" y1="93.8" x2="187.30" y2="93.8" stroke="#2a2627" stroke-width="1.15"/>
<line x1="190.90" y1="93.8" x2="196.50" y2="93.8" stroke="#2a2627" stroke-width="1.15"/>
<line x1="200.10" y1="93.8" x2="205.70" y2="93.8" stroke="#2a2627" stroke-width="1.15"/>
<rect x="26" y="102.9" width="11" height="11" fill="#9FD49C" stroke="#444" stroke-width="1"/>
<text x="42" y="112.1" font-size="12.4" text-anchor="start" textLength="27.8" lengthAdjust="spacingAndGlyphs" fill="#2a2627">Steel</text>
<text x="150.5" y="112.1" font-size="12.4" text-anchor="end" fill="#2a2627">15</text>
<text x="222.8" y="112.1" font-size="12.4" text-anchor="end" fill="#2a2627">14</text>
<line x1="73.30" y1="109.2" x2="78.50" y2="109.2" stroke="#2a2627" stroke-width="1.15"/>
<line x1="81.17" y1="109.2" x2="86.37" y2="109.2" stroke="#2a2627" stroke-width="1.15"/>
<line x1="89.04" y1="109.2" x2="94.24" y2="109.2" stroke="#2a2627" stroke-width="1.15"/>
<line x1="96.91" y1="109.2" x2="102.11" y2="109.2" stroke="#2a2627" stroke-width="1.15"/>
<line x1="104.79" y1="109.2" x2="109.99" y2="109.2" stroke="#2a2627" stroke-width="1.15"/>
<line x1="112.66" y1="109.2" x2="117.86" y2="109.2" stroke="#2a2627" stroke-width="1.15"/>
<line x1="120.53" y1="109.2" x2="125.73" y2="109.2" stroke="#2a2627" stroke-width="1.15"/>
<line x1="128.40" y1="109.2" x2="133.60" y2="109.2" stroke="#2a2627" stroke-width="1.15"/>
<line x1="154.10" y1="109.2" x2="159.70" y2="109.2" stroke="#2a2627" stroke-width="1.15"/>
<line x1="163.30" y1="109.2" x2="168.90" y2="109.2" stroke="#2a2627" stroke-width="1.15"/>
<line x1="172.50" y1="109.2" x2="178.10" y2="109.2" stroke="#2a2627" stroke-width="1.15"/>
<line x1="181.70" y1="109.2" x2="187.30" y2="109.2" stroke="#2a2627" stroke-width="1.15"/>
<line x1="190.90" y1="109.2" x2="196.50" y2="109.2" stroke="#2a2627" stroke-width="1.15"/>
<line x1="200.10" y1="109.2" x2="205.70" y2="109.2" stroke="#2a2627" stroke-width="1.15"/>
<rect x="26" y="118.3" width="11" height="11" fill="#B8E1EC" stroke="#444" stroke-width="1"/>
<text x="42" y="127.5" font-size="12.4" text-anchor="start" textLength="47.4" lengthAdjust="spacingAndGlyphs" fill="#2a2627">Titanium</text>
<text x="150.5" y="127.5" font-size="12.4" text-anchor="end" fill="#2a2627">13</text>
<text x="222.8" y="127.5" font-size="12.4" text-anchor="end" fill="#2a2627">21</text>
<line x1="101.20" y1="124.6" x2="106.40" y2="124.6" stroke="#2a2627" stroke-width="1.15"/>
<line x1="110.27" y1="124.6" x2="115.47" y2="124.6" stroke="#2a2627" stroke-width="1.15"/>
<line x1="119.33" y1="124.6" x2="124.53" y2="124.6" stroke="#2a2627" stroke-width="1.15"/>
<line x1="128.40" y1="124.6" x2="133.60" y2="124.6" stroke="#2a2627" stroke-width="1.15"/>
<line x1="154.10" y1="124.6" x2="159.70" y2="124.6" stroke="#2a2627" stroke-width="1.15"/>
<line x1="163.30" y1="124.6" x2="168.90" y2="124.6" stroke="#2a2627" stroke-width="1.15"/>
<line x1="172.50" y1="124.6" x2="178.10" y2="124.6" stroke="#2a2627" stroke-width="1.15"/>
<line x1="181.70" y1="124.6" x2="187.30" y2="124.6" stroke="#2a2627" stroke-width="1.15"/>
<line x1="190.90" y1="124.6" x2="196.50" y2="124.6" stroke="#2a2627" stroke-width="1.15"/>
<line x1="200.10" y1="124.6" x2="205.70" y2="124.6" stroke="#2a2627" stroke-width="1.15"/>
<rect x="26" y="133.8" width="11" height="11" fill="#F6C6DC" stroke="#444" stroke-width="1"/>
<text x="42" y="143.0" font-size="12.4" text-anchor="start" textLength="79" lengthAdjust="spacingAndGlyphs" fill="#2a2627">Carbon Epoxy</text>
<text x="150.5" y="143.0" font-size="12.4" text-anchor="end" fill="#2a2627">10</text>
<text x="222.8" y="143.0" font-size="12.4" text-anchor="end" fill="#2a2627">19</text>
<line x1="124.40" y1="140.1" x2="129.20" y2="140.1" stroke="#2a2627" stroke-width="1.15"/>
<line x1="154.10" y1="140.1" x2="159.70" y2="140.1" stroke="#2a2627" stroke-width="1.15"/>
<line x1="163.30" y1="140.1" x2="168.90" y2="140.1" stroke="#2a2627" stroke-width="1.15"/>
<line x1="172.50" y1="140.1" x2="178.10" y2="140.1" stroke="#2a2627" stroke-width="1.15"/>
<line x1="181.70" y1="140.1" x2="187.30" y2="140.1" stroke="#2a2627" stroke-width="1.15"/>
<line x1="190.90" y1="140.1" x2="196.50" y2="140.1" stroke="#2a2627" stroke-width="1.15"/>
<line x1="200.10" y1="140.1" x2="205.70" y2="140.1" stroke="#2a2627" stroke-width="1.15"/>
<rect x="26" y="148.9" width="11" height="11" fill="#F4F19C" stroke="#444" stroke-width="1"/>
<text x="42" y="158.1" font-size="12.4" text-anchor="start" textLength="31" lengthAdjust="spacingAndGlyphs" fill="#2a2627">Other</text>
<text x="150.5" y="158.1" font-size="12.4" text-anchor="end" fill="#2a2627">13</text>
<text x="222.8" y="158.1" font-size="12.4" text-anchor="end" fill="#2a2627">15</text>
<line x1="76.40" y1="155.2" x2="81.60" y2="155.2" stroke="#2a2627" stroke-width="1.15"/>
<line x1="84.40" y1="155.2" x2="89.60" y2="155.2" stroke="#2a2627" stroke-width="1.15"/>
<line x1="92.40" y1="155.2" x2="97.60" y2="155.2" stroke="#2a2627" stroke-width="1.15"/>
<line x1="100.40" y1="155.2" x2="105.60" y2="155.2" stroke="#2a2627" stroke-width="1.15"/>
<line x1="108.40" y1="155.2" x2="113.60" y2="155.2" stroke="#2a2627" stroke-width="1.15"/>
<line x1="116.40" y1="155.2" x2="121.60" y2="155.2" stroke="#2a2627" stroke-width="1.15"/>
<line x1="124.40" y1="155.2" x2="129.60" y2="155.2" stroke="#2a2627" stroke-width="1.15"/>
<line x1="154.10" y1="155.2" x2="159.70" y2="155.2" stroke="#2a2627" stroke-width="1.15"/>
<line x1="163.30" y1="155.2" x2="168.90" y2="155.2" stroke="#2a2627" stroke-width="1.15"/>
<line x1="172.50" y1="155.2" x2="178.10" y2="155.2" stroke="#2a2627" stroke-width="1.15"/>
<line x1="181.70" y1="155.2" x2="187.30" y2="155.2" stroke="#2a2627" stroke-width="1.15"/>
<line x1="190.90" y1="155.2" x2="196.50" y2="155.2" stroke="#2a2627" stroke-width="1.15"/>
<line x1="200.10" y1="155.2" x2="205.70" y2="155.2" stroke="#2a2627" stroke-width="1.15"/>
<rect x="132.6" y="139.6" width="1" height="1" fill="#2a2627" opacity="0.6"/>
<rect x="131.6" y="154.8" width="1" height="1" fill="#2a2627" opacity="0.6"/>
<line x1="129.3" y1="162.9" x2="150.8" y2="162.9" stroke="#2a2627" stroke-width="1"/>
<line x1="202.2" y1="162.9" x2="224" y2="162.9" stroke="#2a2627" stroke-width="1"/>
<text x="150.6" y="174.8" font-size="12.4" text-anchor="end" font-weight="bold" fill="#2a2627">100</text>
<text x="223.4" y="174.8" font-size="12.4" text-anchor="end" font-weight="bold" fill="#2a2627">100</text>
<text x="350" y="59" font-size="12.4" text-anchor="start" textLength="98.8" lengthAdjust="spacingAndGlyphs" fill="#2a2627">Increased Carbon</text>
<text x="350" y="74.3" font-size="12.4" text-anchor="start" textLength="126.8" lengthAdjust="spacingAndGlyphs" fill="#2a2627">Epoxy Usage in Center</text>
<text x="350" y="89.8" font-size="12.4" text-anchor="start" textLength="93" lengthAdjust="spacingAndGlyphs" fill="#2a2627">and Aft Fuselage</text>
<text x="626" y="59" font-size="12.4" text-anchor="start" textLength="141.8" lengthAdjust="spacingAndGlyphs" fill="#2a2627">Carbon Fibers (IM7) Used</text>
<text x="626" y="74.3" font-size="12.4" text-anchor="start" textLength="120.5" lengthAdjust="spacingAndGlyphs" fill="#2a2627">in Wing and Tail Skins</text>
<text x="350" y="429" font-size="12.4" text-anchor="start" textLength="132" lengthAdjust="spacingAndGlyphs" fill="#2a2627">High Strength/Durability</text>
<text x="350" y="444.3" font-size="12.4" text-anchor="start" textLength="113" lengthAdjust="spacingAndGlyphs" fill="#2a2627">(AERMET 100) Used</text>
<text x="350" y="459.8" font-size="12.4" text-anchor="start" textLength="118.5" lengthAdjust="spacingAndGlyphs" fill="#2a2627">in Flap Transmissions</text>
<text x="350" y="475.3" font-size="12.4" text-anchor="start" textLength="79.5" lengthAdjust="spacingAndGlyphs" fill="#2a2627">and elsewhere</text>
<text x="626" y="429" font-size="12.4" text-anchor="start" textLength="149.8" lengthAdjust="spacingAndGlyphs" fill="#2a2627">Improved Toughness Resin</text>
<text x="626" y="444.3" font-size="12.4" text-anchor="start" textLength="127" lengthAdjust="spacingAndGlyphs" fill="#2a2627">(977-3) Used in All C/E</text>
<text x="626" y="459.8" font-size="12.4" text-anchor="start" textLength="125.5" lengthAdjust="spacingAndGlyphs" fill="#2a2627">Structural Applications</text>
</svg>
</body></html>
